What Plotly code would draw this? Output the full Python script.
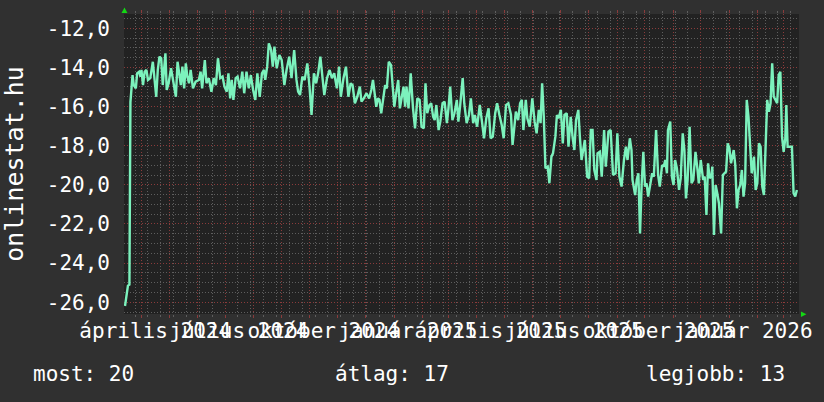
import pandas as pd
import plotly.graph_objects as go

# ---------------- data ----------------
start_date = "2024-03-13"          # day 0 of the offsets below

days_a = [1.1, 2.9, 4.3, 5.9, 7.0, 9.3, 10.7, 12.9, 14.3, 16.4,
          17.9, 19.0, 20.7, 22.5, 24.4, 26.1, 28.6, 31.4, 33.3, 35.1,
          36.8, 38.6, 40.5, 42.2, 45.1, 46.5, 48.6, 51.2, 53.7, 56.5,
          58.3, 60.1, 61.9, 63.6, 65.5, 67.3, 69.0, 70.8, 72.6, 75.1,
          78.0, 81.5, 83.4, 85.1, 88.0, 89.8, 92.3, 95.2, 97.6, 100.1,
          102.3, 104.8, 107.3, 109.4, 111.9, 113.7, 115.6, 117.3, 119.1, 121.6,
          123.7, 126.3, 128.8, 130.9, 133.4, 135.9, 138.1, 140.6, 143.0, 145.2,
          147.8, 150.2, 152.4, 153.8, 155.9, 157.7, 160.2, 162.0, 163.8, 166.3,
          169.2, 171.7, 174.6, 177.0, 179.9, 182.4, 185.3, 187.8, 189.6, 191.7,
          194.2, 196.7, 199.6, 202.0, 204.2, 206.8, 209.2, 211.4, 213.8, 216.4,
          218.1, 221.0, 223.9, 226.4, 228.9, 231.8, 234.2, 236.1, 239.0, 241.7,
          244.3, 246.8, 248.9, 251.4, 254.0, 256.8, 258.6, 261.1, 263.2]
vals_a = [-26.19, -25.53, -25.15, -25.10, -15.77, -14.39, -14.90, -15.07, -14.30, -14.22,
          -14.47, -14.13, -14.90, -14.22, -14.13, -14.64, -14.55, -13.71, -14.64, -15.50,
          -14.13, -13.45, -13.53, -14.90, -13.28, -15.15, -14.81, -14.04, -14.73, -15.50,
          -13.71, -14.30, -14.90, -13.96, -15.07, -13.79, -14.47, -14.81, -14.13, -15.07,
          -14.73, -14.64, -14.22, -15.07, -13.62, -14.81, -14.55, -15.24, -14.55, -14.90,
          -13.53, -14.55, -14.47, -14.98, -15.24, -14.30, -15.58, -14.64, -15.66, -14.55,
          -14.47, -15.07, -14.22, -15.32, -14.22, -15.07, -14.39, -15.15, -15.66, -14.30,
          -15.50, -14.30, -14.13, -14.64, -13.96, -12.77, -13.11, -13.96, -12.94, -14.04,
          -13.36, -13.62, -14.90, -14.13, -13.45, -14.55, -13.11, -14.64, -15.24, -15.41,
          -14.47, -14.64, -13.79, -14.98, -16.43, -14.30, -14.81, -14.30, -13.45, -14.64,
          -15.41, -14.55, -14.13, -14.55, -14.30, -15.07, -13.96, -15.50, -14.55, -13.96,
          -15.50, -14.81, -14.90, -15.83, -15.50, -14.98, -15.75, -15.58, -15.41]

days_b = [264.0, 266.9, 269.3, 271.1, 272.9, 274.7, 276.5, 278.2, 280.1, 282.5,
          284.3, 286.2, 288.3, 290.8, 292.6, 294.3, 296.9, 298.6, 300.4, 302.6,
          304.4, 306.1, 307.6, 309.8, 312.2, 314.7, 316.9, 319.4, 321.9, 324.0,
          326.5, 328.3, 330.2, 332.6, 334.5, 336.6, 338.3, 340.1, 342.6, 344.4,
          346.9, 349.1, 351.6, 353.3, 355.2, 357.6, 359.8, 362.4, 364.1, 365.9,
          368.8, 370.5, 373.1, 375.6, 377.7, 380.2, 382.0, 384.5, 387.4, 389.8,
          392.0, 394.5, 397.0, 399.2, 401.6, 404.2, 406.3, 408.8, 411.3, 413.4,
          416.0, 418.5, 421.4, 423.1, 424.9, 426.7, 429.2, 431.3, 433.2, 434.9,
          437.5, 439.2, 441.8, 444.6, 447.1, 449.3, 451.7, 453.6, 455.3, 457.1,
          458.9, 461.4, 463.2, 465.4, 467.1, 469.7, 471.4, 473.2, 475.7, 477.8,
          479.6, 482.1, 484.0, 486.4, 488.6, 490.4, 492.2, 494.7, 496.5, 498.2,
          500.0, 501.8, 504.3, 506.5, 508.3]
vals_b = [-15.32, -15.58, -15.15, -14.64, -15.32, -16.01, -15.58, -15.66, -16.34, -15.32,
          -14.90, -15.07, -13.71, -13.88, -14.98, -16.01, -15.15, -14.64, -16.09, -15.32,
          -14.98, -16.01, -14.98, -16.09, -14.30, -16.09, -17.11, -15.58, -15.66, -17.03,
          -17.11, -14.81, -16.34, -15.92, -15.83, -16.52, -16.69, -15.92, -17.20, -16.77,
          -15.83, -15.75, -16.85, -16.09, -14.98, -16.69, -16.34, -15.66, -16.77, -16.01,
          -14.55, -15.83, -16.85, -16.43, -15.58, -16.85, -16.43, -17.03, -15.92, -16.77,
          -17.62, -16.60, -16.09, -17.62, -17.54, -16.34, -15.83, -16.43, -16.94, -17.62,
          -15.92, -15.83, -16.43, -17.96, -17.20, -16.26, -16.69, -15.83, -15.66, -17.20,
          -15.66, -16.60, -17.03, -15.58, -16.77, -17.37, -16.17, -16.85, -14.81, -16.52,
          -19.15, -19.07, -19.92, -18.56, -18.39, -17.54, -16.43, -16.60, -16.17, -17.88,
          -16.43, -16.34, -18.05, -16.52, -17.62, -18.22, -16.69, -16.17, -17.62, -18.73,
          -18.22, -17.71, -19.58, -19.66, -17.20]

days_c = [510.2, 512.1, 514.5, 515.6, 518.1, 520.2, 522.8, 524.6, 527.5, 529.9,
          532.5, 535.3, 537.2, 539.4, 541.8, 544.4, 546.5, 548.3, 550.8, 552.6,
          553.7, 556.6, 558.3, 560.1, 561.9, 563.7, 565.5, 567.3, 569.0, 570.8,
          573.3, 575.1, 576.9, 579.4, 581.6, 583.4, 585.9, 587.7, 589.4, 591.2,
          592.3, 594.8, 596.6, 598.4, 600.1, 602.0, 604.4, 606.2, 608.4, 610.2,
          611.9, 613.7, 615.9, 618.0, 619.9, 622.3, 624.5, 625.9, 628.0, 630.6,
          632.3, 634.2, 636.0, 637.7, 639.6, 640.6, 642.4, 644.2, 646.0, 647.8,
          650.2, 652.1, 653.8, 655.6, 657.4, 659.2, 661.0, 663.9, 665.6, 667.4,
          669.2, 671.0, 672.8, 674.6, 676.3, 678.1, 680.0, 681.7, 683.5, 686.0,
          687.8, 689.6, 691.4, 693.2, 695.0, 696.8, 698.6, 700.4, 702.2, 704.0,
          705.8, 707.5, 709.4, 711.2, 712.9, 714.7, 716.5, 718.3, 720.1, 721.2,
          722.6, 725.5, 727.3, 729.1, 730.9, 732.7]
vals_c = [-17.20, -19.24, -19.75, -18.39, -18.31, -19.58, -17.20, -19.07, -17.28, -17.20,
          -19.50, -19.41, -17.37, -19.58, -20.09, -18.73, -18.05, -18.73, -17.62, -18.22,
          -19.75, -20.52, -19.75, -19.41, -22.48, -19.92, -18.31, -20.09, -19.92, -20.60,
          -19.75, -19.41, -19.58, -17.20, -19.50, -20.09, -18.99, -19.07, -18.73, -19.41,
          -17.20, -16.77, -19.58, -20.01, -18.73, -19.15, -20.26, -19.66, -17.37, -18.22,
          -20.69, -19.75, -17.03, -19.92, -19.75, -18.31, -19.24, -19.92, -18.73, -19.75,
          -19.58, -21.54, -18.90, -19.66, -19.58, -19.07, -22.56, -20.01, -20.43, -20.94,
          -22.48, -19.50, -19.41, -19.33, -17.88, -18.13, -18.90, -18.22, -18.99, -21.20,
          -20.26, -20.01, -19.24, -20.60, -19.92, -15.66, -16.52, -17.96, -19.41, -18.56,
          -20.26, -19.92, -17.88, -18.05, -20.09, -20.52, -17.71, -15.66, -16.26, -15.83,
          -13.79, -15.50, -15.66, -15.83, -14.39, -14.22, -17.54, -18.31, -17.62, -15.92,
          -18.05, -18.05, -18.05, -20.43, -20.60, -20.26]

y_tickvals = [-26, -24, -22, -20, -18, -16, -14, -12]
y_ticktext = ["-26,0", "-24,0", "-22,0", "-20,0", "-18,0", "-16,0", "-14,0", "-12,0"]

x_label_vals = ["2024-04-16", "2024-07-16", "2024-10-16", "2025-01-16",
                "2025-04-16", "2025-07-16", "2025-10-16", "2026-01-16"]
x_label_text = ["április 2024", "július 2024", "október 2024", "január 2025",
                "április 2025", "július 2025", "október 2025", "január 2026"]

y_title = "onlinestat.hu"
legend_labels = ["most", "átlag", "legjobb"]
legend_values = [20, 17, 13]

# ---------------- figure ----------------
days = days_a + days_b + days_c
vals = vals_a + vals_b + vals_c
dates = pd.Timestamp(start_date) + pd.to_timedelta(days, unit="D")

x_range = ["2024-03-13", "2026-03-18"]
y_range = [-26.6, -11.27]

month_lines = [d.strftime("%Y-%m-%d") for d in pd.date_range("2024-04-01", "2026-03-01", freq="MS")]
fortnight_lines = [d.strftime("%Y-%m-%d") for d in pd.date_range("2024-03-25", "2026-03-18", freq="14D")
                   if d.strftime("%Y-%m-%d") not in month_lines]
y_minor = [v / 2 for v in range(-53, -22) if (v / 2) not in y_tickvals]

BG = "#303030"
CANVAS = "#222222"
MINOR = "#5e5e5e"
MAJOR = "#8a3b3b"
LINE = "#7cf2bd"
ARROW = "#14d814"

fig = go.Figure()
fig.add_trace(go.Scatter(x=dates, y=vals, mode="lines",
                         line=dict(color=LINE, width=2.4), hoverinfo="skip",
                         showlegend=False, xaxis="x", yaxis="y"))
# carrier trace for the label axis
fig.add_trace(go.Scatter(x=[dates[0]], y=[None], mode="lines", showlegend=False,
                         hoverinfo="skip", xaxis="x2", yaxis="y"))

fig.update_layout(
    width=824, height=402,
    margin=dict(l=124, r=15, t=14, b=88),
    paper_bgcolor=BG, plot_bgcolor=CANVAS,
    font=dict(family="DejaVu Sans Mono", size=21, color="#ffffff"),
    showlegend=False,
    xaxis=dict(type="date", range=x_range, tickmode="array", tickvals=month_lines,
               showticklabels=False, showgrid=True, gridcolor=MAJOR, gridwidth=1,
               griddash="1px,2px", ticks="outside", ticklen=3, tickcolor=MAJOR,
               mirror="ticks", zeroline=False, showline=False,
               minor=dict(tickmode="array", tickvals=fortnight_lines, showgrid=True,
                          gridcolor=MINOR, gridwidth=1, griddash="1px,2px",
                          ticks="outside", ticklen=2, tickcolor=MINOR)),
    xaxis2=dict(type="date", range=x_range, overlaying="x", anchor="y", side="bottom",
                tickmode="array", tickvals=x_label_vals, ticktext=x_label_text,
                tickangle=0, showgrid=False, ticks="", zeroline=False, showline=False,
                ticklabelstandoff=2),
    yaxis=dict(range=y_range, tickmode="array", tickvals=y_tickvals, ticktext=y_ticktext,
               showgrid=True, gridcolor=MAJOR, gridwidth=1, griddash="1px,2px",
               ticks="", zeroline=False, showline=False, ticklabelstandoff=13,
               title=dict(text=y_title, standoff=16),
               minor=dict(tickmode="array", tickvals=y_minor, showgrid=True,
                          gridcolor=MINOR, gridwidth=1, griddash="1px,2px")),
)

# axis arrows (paper coordinates relative to plot area)
fig.add_shape(type="path", xref="paper", yref="paper",
              path="M -0.0037 1.0033 L 0.0051 1.0033 L 0.0007 1.0217 Z",
              fillcolor=ARROW, line=dict(width=0))
fig.add_shape(type="path", xref="paper", yref="paper",
              path="M 1.0029 0.0083 L 1.0029 -0.0100 L 1.0110 -0.0008 Z",
              fillcolor=ARROW, line=dict(width=0))

legend_x = [-0.1372, 0.3095, 0.7700]
for lx, lab, val in zip(legend_x, legend_labels, legend_values):
    fig.add_annotation(xref="paper", yref="paper", x=lx, y=-0.2, xanchor="left",
                       yanchor="middle", showarrow=False, text=f"{lab}: {val}",
                       font=dict(family="DejaVu Sans Mono", size=21, color="#ffffff"))

fig.write_html("out.html", config={"displayModeBar": False},
               post_script="document.body.style.margin='0';"
                           "document.body.style.background='" + BG + "';")
